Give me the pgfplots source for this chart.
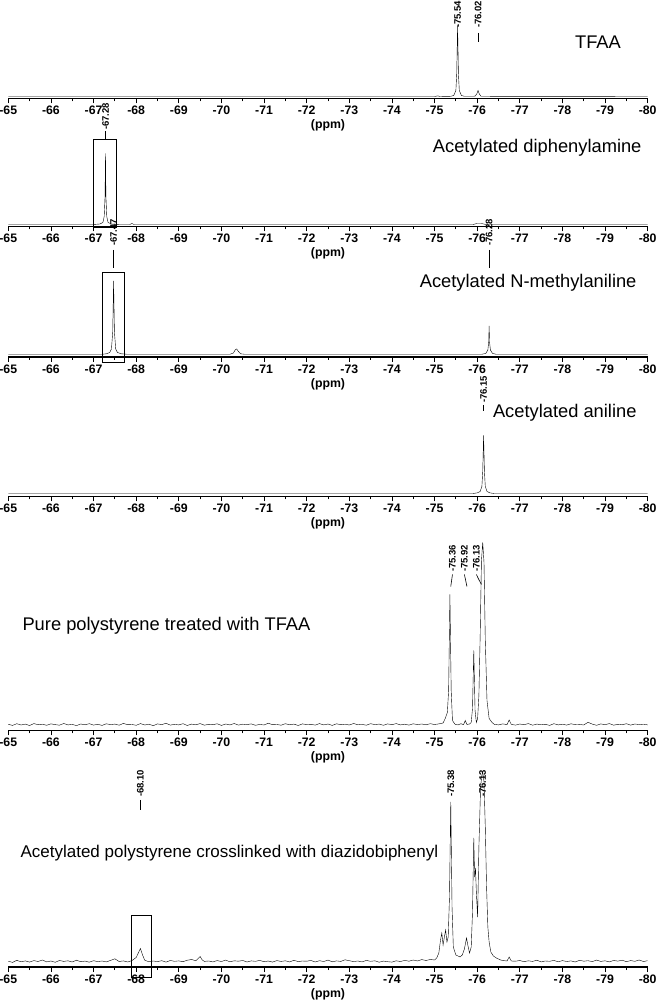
\documentclass[border=0pt]{standalone}
\usepackage{fontspec}
\setmainfont{Liberation Sans}
\usepackage{pgfplots}
\pgfplotsset{compat=1.18}

\newcommand{\plabfont}{\bfseries\fontsize{9.5}{9.5}\selectfont}
\newcommand{\ttl}{\fontsize{18.3}{18.3}\selectfont}

\pgfplotsset{
  spec/.style={
    scale only axis, width=639.4pt, height=100pt,
    xmin=-80, xmax=-65, ymin=0, ymax=100, x dir=reverse,
    axis x line*=bottom, hide y axis, clip=false,
    xtick={-80,-79,...,-65}, minor x tick num=1,
    tick align=outside, major tick length=5pt, minor tick length=3pt,
    tick style={black, line width=0.8pt},
    axis line style={black, line width=1.2pt},
    /pgf/number format/assume math mode=true,
    xticklabel style={font=\bfseries\fontsize{12.3}{12.3}\selectfont, inner sep=1pt, text height=9pt, text depth=0pt, yshift=-1pt},
    xlabel={(ppm)},
    xlabel style={font=\bfseries\fontsize{12.3}{12.3}\selectfont, at={(axis description cs:0.5,0)}, anchor=north, yshift=-18pt},
    cycle list={{black, line width=1pt, mark=none}},
  },
}
\tikzset{plab/.style={rotate=90, anchor=west, font=\plabfont, inner sep=0pt}}

\begin{document}
\begin{tikzpicture}[x=1pt,y=1pt]
\useasboundingbox (0,0) rectangle (663,1001);

% TFAA
\begin{axis}[spec, at={(8.3pt,902.5pt)}, anchor=south west]
\addplot coordinates {(-65,2)(-75.0,2)(-75.08,2.6)(-75.12,2)(-75.38,2.2)(-75.45,3)(-75.5,8)(-75.52,25)(-75.54,73)(-75.56,25)(-75.58,8)(-75.63,3)(-75.7,2.2)(-75.95,2.3)(-75.99,4.5)(-76.02,8)(-76.05,4.5)(-76.09,2.2)(-80,2)};
\node[plab] at (axis cs:-75.54,70.5) {-75.54};
\node[plab] at (axis cs:-76.02,70.5) {-76.02};
\draw[line width=0.7pt] (axis cs:-76.02,65.5) -- (axis cs:-76.02,56.5);
\end{axis}

% diphenylamine
\begin{axis}[spec, at={(8.3pt,774.5pt)}, anchor=south west]
\addplot coordinates {(-65,2)(-67.0,2)(-67.15,2.5)(-67.22,4)(-67.25,10)(-67.27,30)(-67.28,73)(-67.29,30)(-67.31,10)(-67.34,4)(-67.42,2.5)(-67.6,2)(-67.85,2)(-67.9,3)(-67.95,2)(-75.9,2)(-76.0,3)(-76.1,3)(-76.2,2)(-80,2)};
\draw[line width=1pt] (axis cs:-67.01,-1) rectangle (axis cs:-67.55,87);
\node[plab] at (axis cs:-67.28,96.5) {-67.28};
\draw[line width=0.7pt] (axis cs:-67.28,95) -- (axis cs:-67.28,87);
\end{axis}

% N-methylaniline
\begin{axis}[spec, at={(8.3pt,644pt)}, anchor=south west]
\addplot coordinates {(-65,2.7)(-67.2,2.7)(-67.3,3.2)(-67.38,4.5)(-67.42,8)(-67.45,25)(-67.47,76)(-67.49,25)(-67.52,8)(-67.56,4.5)(-67.65,3.2)(-67.8,2.7)(-70.2,2.7)(-70.28,4)(-70.33,7.5)(-70.36,8)(-70.39,6)(-70.45,3.2)(-70.55,2.7)(-76.1,2.7)(-76.2,3.5)(-76.25,7)(-76.27,15)(-76.28,31)(-76.29,15)(-76.31,7)(-76.36,3.5)(-76.45,2.7)(-80,2.7)};
\draw[line width=1pt] (axis cs:-67.22,-6) rectangle (axis cs:-67.72,84);
\node[plab] at (axis cs:-67.47,111) {-67.47};
\draw[line width=0.7pt] (axis cs:-67.47,107) -- (axis cs:-67.47,89);
\node[plab] at (axis cs:-76.28,111) {-76.28};
\draw[line width=0.7pt] (axis cs:-76.28,107) -- (axis cs:-76.28,89);
\end{axis}

% aniline
\begin{axis}[spec, at={(8.3pt,504.5pt)}, anchor=south west]
\addplot coordinates {(-65,3)(-75.9,3)(-76.0,3.6)(-76.07,5)(-76.11,10)(-76.13,25)(-76.15,61)(-76.17,25)(-76.19,10)(-76.23,5)(-76.3,3.6)(-76.4,3)(-80,3)};
\node[plab] at (axis cs:-76.15,93.5) {-76.15};
\draw[line width=0.7pt] (axis cs:-76.15,91.5) -- (axis cs:-76.15,85.5);
\end{axis}

% pure polystyrene
\begin{axis}[spec, at={(8.3pt,270.5pt)}, anchor=south west]
\addplot coordinates {
(-65.0,6.2)(-65.1,5.1)(-65.2,6.8)(-65.3,5.5)(-65.4,6.4)(-65.5,5.0)(-65.6,6.9)(-65.7,5.8)(-65.8,6.3)(-65.9,5.2)
(-66.0,6.6)(-66.1,5.9)(-66.2,5.3)(-66.3,7.0)(-66.4,5.6)(-66.5,6.1)(-66.6,4.9)(-66.7,6.5)(-66.8,5.7)(-66.9,6.8)
(-67.0,5.4)(-67.1,6.2)(-67.2,5.1)(-67.3,6.7)(-67.4,5.9)(-67.5,6.4)(-67.6,5.3)(-67.7,7.1)(-67.8,5.8)(-67.9,6.0)
(-68.0,5.2)(-68.1,6.9)(-68.2,5.5)(-68.3,6.3)(-68.4,4.8)(-68.5,6.6)(-68.6,5.9)(-68.7,7.2)(-68.8,5.4)(-68.9,6.1)
(-69.0,5.6)(-69.1,6.8)(-69.2,5.0)(-69.3,6.4)(-69.4,5.7)(-69.5,6.9)(-69.6,5.3)(-69.7,6.2)(-69.8,5.8)(-69.9,6.7)
(-70.0,5.1)(-70.1,6.5)(-70.2,5.6)(-70.3,7.0)(-70.4,5.4)(-70.5,6.3)(-70.6,5.9)(-70.7,6.6)(-70.8,5.2)(-70.9,6.1)
(-71.0,5.5)(-71.1,7.3)(-71.2,5.8)(-71.3,6.0)(-71.4,5.3)(-71.5,6.8)(-71.6,5.7)(-71.7,6.4)(-71.8,5.0)(-71.9,6.6)
(-72.0,5.9)(-72.1,6.2)(-72.2,5.4)(-72.3,6.9)(-72.4,5.6)(-72.5,6.5)(-72.6,5.1)(-72.7,6.7)(-72.8,5.8)(-72.9,6.3)
(-73.0,5.5)(-73.1,7.0)(-73.2,5.7)(-73.3,6.1)(-73.4,5.3)(-73.5,6.8)(-73.6,5.9)(-73.7,6.4)(-73.8,5.2)(-73.9,6.6)
(-74.0,5.8)(-74.1,6.9)(-74.2,5.6)(-74.3,6.3)(-74.4,5.4)(-74.5,6.7)(-74.6,5.9)(-74.7,6.5)(-74.8,5.7)(-74.9,6.8)
(-75.0,6.0)(-75.1,6.6)(-75.2,7.5)(-75.25,12)(-75.3,18)(-75.33,40)(-75.36,136)(-75.39,40)(-75.42,10)(-75.48,6.2)
(-75.55,5.6)(-75.62,6.8)(-75.68,5.8)(-75.72,10)(-75.76,6)(-75.82,6.5)(-75.86,8)(-75.89,22)(-75.92,80)(-75.95,20)
(-75.98,8)(-76.01,12)(-76.04,35)(-76.07,95)(-76.10,170)(-76.13,188)(-76.16,168)(-76.19,90)(-76.23,30)(-76.28,12)
(-76.35,8)(-76.4,6.2)(-76.5,5.6)(-76.6,6.6)(-76.7,5.9)(-76.75,10.5)(-76.8,6.1)(-76.9,5.4)
(-77.0,6.5)(-77.1,5.8)(-77.2,6.9)(-77.3,5.3)(-77.4,6.4)(-77.5,5.7)(-77.6,6.2)(-77.7,5.1)(-77.8,6.8)(-77.9,5.6)
(-78.0,6.3)(-78.1,5.4)(-78.2,6.7)(-78.3,5.9)(-78.4,6.1)(-78.5,5.5)(-78.6,8.2)(-78.7,6.4)(-78.8,5.2)(-78.9,6.6)
(-79.0,5.8)(-79.1,6.9)(-79.2,5.3)(-79.3,6.2)(-79.4,5.7)(-79.5,6.8)(-79.6,5.4)(-79.7,6.5)(-79.8,5.9)(-79.9,6.3)(-80.0,5.6)};
\node[plab] at (axis cs:-75.42,158.5) {-75.36};
\node[plab] at (axis cs:-75.70,158.5) {-75.92};
\node[plab] at (axis cs:-75.98,158.5) {-76.13};
\draw[line width=0.6pt] (axis cs:-75.42,156) -- (axis cs:-75.38,144);
\draw[line width=0.6pt] (axis cs:-75.70,156) -- (axis cs:-75.76,144);
\draw[line width=0.6pt] (axis cs:-75.98,156) -- (axis cs:-76.05,150) -- (axis cs:-76.10,146);
\end{axis}

% crosslinked
\begin{axis}[spec, at={(8.3pt,34pt)}, anchor=south west]
\addplot coordinates {
(-65.0,5.8)(-65.1,4.6)(-65.2,6.7)(-65.3,5.2)(-65.4,6.1)(-65.5,4.9)(-65.6,6.4)(-65.7,5.5)(-65.8,7.0)(-65.9,5.1)
(-66.0,6.0)(-66.1,4.7)(-66.2,6.5)(-66.3,5.6)(-66.4,6.2)(-66.5,5.0)(-66.6,6.8)(-66.7,5.3)(-66.8,5.9)(-66.9,4.8)
(-67.0,6.3)(-67.1,5.4)(-67.2,6.0)(-67.3,5.1)(-67.4,6.6)(-67.5,8.2)(-67.6,5.5)(-67.7,6.1)(-67.8,5.0)(-67.9,6.4)
(-68.0,9.5)(-68.05,14)(-68.1,18.5)(-68.15,12)(-68.2,6.8)(-68.3,5.2)(-68.4,6.0)(-68.5,5.4)(-68.6,6.3)(-68.7,4.9)
(-68.8,6.5)(-68.9,5.7)(-69.0,6.1)(-69.1,5.3)(-69.2,6.8)(-69.3,7.5)(-69.4,6.2)(-69.5,10.5)(-69.55,7)(-69.6,5.6)
(-69.7,6.0)(-69.8,5.1)(-69.9,6.4)(-70.0,5.5)(-70.1,6.9)(-70.2,5.2)(-70.3,6.2)(-70.4,5.8)(-70.5,6.5)(-70.6,5.0)
(-70.7,6.1)(-70.8,5.7)(-70.9,6.6)(-71.0,5.3)(-71.1,6.0)(-71.2,4.9)(-71.3,6.4)(-71.4,5.6)(-71.5,6.2)(-71.6,5.1)
(-71.7,6.7)(-71.8,5.4)(-71.9,6.0)(-72.0,5.8)(-72.1,6.5)(-72.2,5.0)(-72.3,6.3)(-72.4,5.5)(-72.5,6.9)(-72.6,5.2)
(-72.7,6.1)(-72.8,5.6)(-72.9,7.2)(-73.0,6.3)(-73.1,5.4)(-73.2,6.0)(-73.3,5.1)(-73.4,6.6)(-73.5,5.7)(-73.6,6.2)
(-73.7,4.8)(-73.8,5.9)(-73.9,5.3)(-74.0,4.9)(-74.1,6.2)(-74.2,5.5)(-74.3,6.6)(-74.4,5.8)(-74.5,7.0)(-74.6,6.0)
(-74.7,7.4)(-74.8,6.5)(-74.9,7.5)(-75.0,7)(-75.05,9)(-75.1,14)(-75.14,27)(-75.17,34)(-75.2,22)(-75.23,30)
(-75.26,37)(-75.29,25)(-75.32,30)(-75.35,70)(-75.38,165)(-75.41,60)(-75.44,20)(-75.5,12)(-75.55,11)(-75.6,10)
(-75.65,12)(-75.7,18)(-75.75,29)(-75.78,22)(-75.82,14)(-75.86,20)(-75.89,55)(-75.92,129)(-75.94,90)(-75.96,99)
(-75.98,75)(-76.01,50)(-76.04,120)(-76.08,180)(-76.11,192)(-76.13,195)(-76.16,185)(-76.19,140)(-76.22,80)(-76.25,40)
(-76.28,25)(-76.32,15)(-76.38,11)(-76.45,9)(-76.55,7)(-76.6,6.5)(-76.7,6)(-76.75,10)(-76.8,6)(-76.9,5.8)
(-77.0,6.5)(-77.1,5.3)(-77.2,6.2)(-77.3,5.6)(-77.4,6.8)(-77.5,5.1)(-77.6,6.0)(-77.7,5.7)(-77.8,6.6)(-77.9,5.2)
(-78.0,6.4)(-78.1,5.5)(-78.2,6.1)(-78.3,5.0)(-78.4,6.7)(-78.5,5.8)(-78.6,6.3)(-78.7,5.4)(-78.8,6.9)(-78.9,5.6)
(-79.0,6.2)(-79.1,5.1)(-79.2,6.5)(-79.3,5.9)(-79.4,6.8)(-79.5,5.3)(-79.6,6.4)(-79.7,5.7)(-79.8,7.0)(-79.9,5.5)(-80.0,6.3)};
\draw[line width=1pt] (axis cs:-67.88,-10) rectangle (axis cs:-68.37,51);
\node[plab] at (axis cs:-68.10,170) {-68.10};
\draw[line width=0.7pt] (axis cs:-68.10,167) -- (axis cs:-68.10,157);
\node[plab] at (axis cs:-75.38,170) {-75.38};
\node[plab] at (axis cs:-76.13,170) {-76.13};
\end{axis}

\node[font=\ttl] at (598,959) {TFAA};
\node[font=\ttl, anchor=east] at (645,853) {Acetylated diphenylamine};
\node[font=\ttl, anchor=east] at (640,718) {Acetylated N-methylaniline};
\node[font=\ttl, anchor=east] at (640,588) {Acetylated aniline};
\node[font=\ttl, anchor=west] at (19,375) {Pure polystyrene treated with TFAA};
\node[font=\fontsize{17}{17}\selectfont, anchor=west] at (17,148) {Acetylated polystyrene crosslinked with diazidobiphenyl};
\end{tikzpicture}
\end{document}
